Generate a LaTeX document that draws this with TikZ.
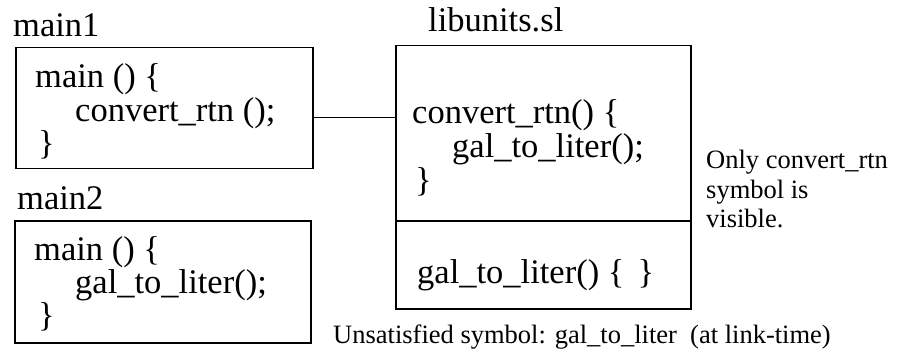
\documentclass[tikz,border=0pt]{standalone}
\usepackage{fontspec}
\setmainfont{Liberation Serif}
\begin{document}
\begin{tikzpicture}[x=1pt,y=-1pt,
  box/.style={draw, line width=1.5pt, inner sep=0pt, anchor=north west},
  big/.style={inner sep=0pt, anchor=base west, font=\fontsize{34.5}{36}\selectfont},
  small/.style={inner sep=0pt, anchor=base west, font=\fontsize{26.5}{28}\selectfont},
  wire/.style={line width=1.5pt}]
\useasboundingbox (0,0) rectangle (900,350);
% main1
\node[big] (l1) at (13,37) {main1};
\node[box, minimum width=297pt, minimum height=121pt] (m1) at (15,47) {};
\node[big] (m1a) at (35,88) {main () \{};
\node[big] (m1b) at (75,122) {convert\_rtn ();};
\node[big] (m1c) at (38,155) {\}};
% main2
\node[big] (l2) at (17,210) {main2};
\node[box, minimum width=296pt, minimum height=122pt] (m2) at (14,220) {};
\node[big] (m2a) at (34,260) {main () \{};
\node[big] (m2b) at (75,293) {gal\_to\_liter();};
\node[big] (m2c) at (38,326) {\}};
% libunits
\node[big] (l3) at (428,32) {libunits.sl};
\node[box, minimum width=295pt, minimum height=175pt] (lt) at (395,45) {};
\node[box, minimum width=295pt, minimum height=88pt] (lb) at (395,220) {};
\node[big] (la) at (412,124) {convert\_rtn() \{};
\node[big] (lbb) at (452,158) {gal\_to\_liter();};
\node[big] (lc) at (415,192) {\}};
\node[big] (ld) at (417,283) {gal\_to\_liter() \{\hspace{0.38em}\}};
% connector
\coordinate (c1) at ([yshift=-9.5pt]m1.east);
\draw[wire] (c1) -- (lt.west |- c1);
% notes
\node[small] (n1) at (706,169) {Only convert\_rtn};
\node[small] (n2) at (706,198) {symbol is};
\node[small] (n3) at (706,227) {visible.};
\node[small] (n4) at (333,343) {Unsatisfied symbol: gal\_to\_liter\ \ (at link-time)};
\end{tikzpicture}
\end{document}
